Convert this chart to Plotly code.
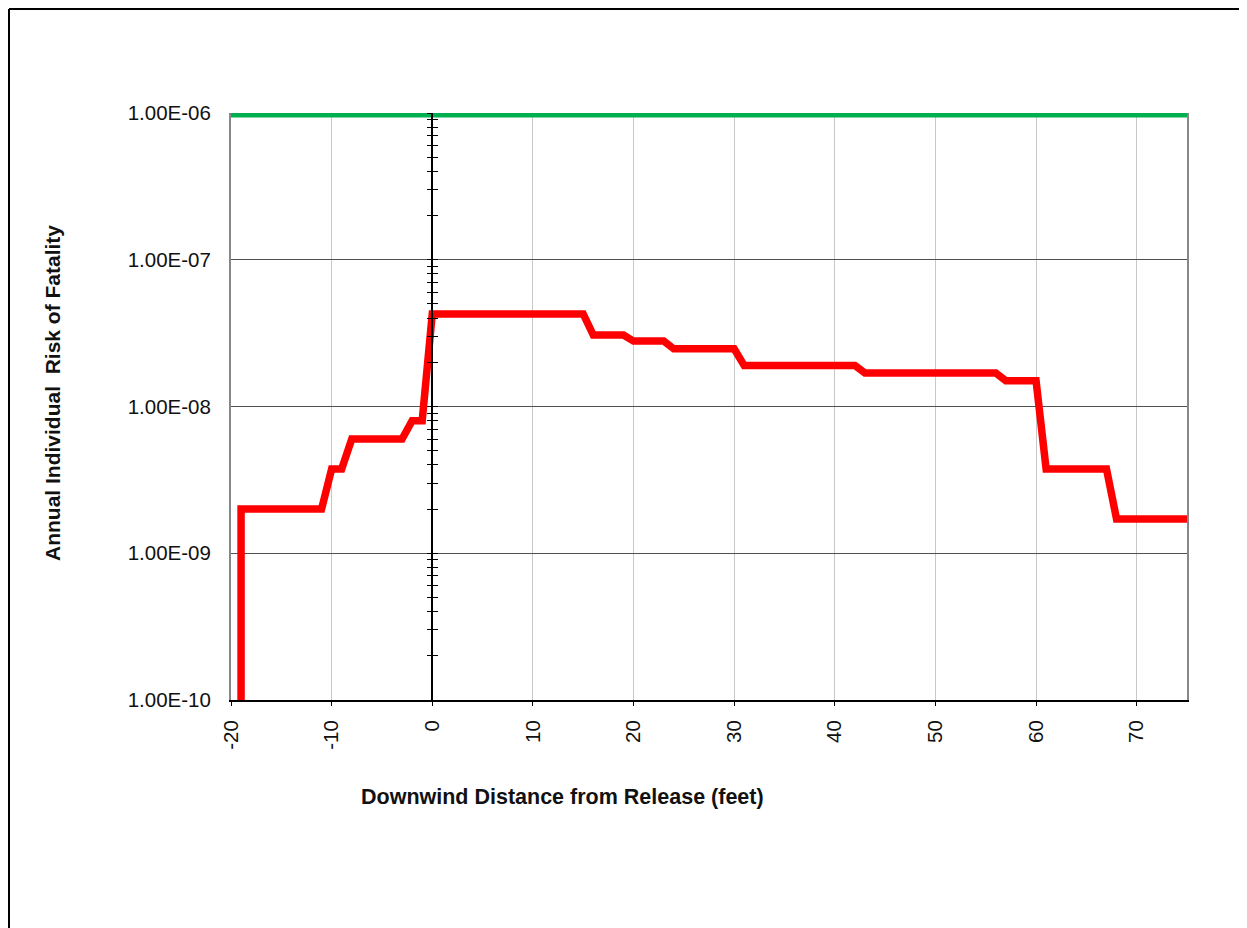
import plotly.graph_objects as go

# Data
dist = [-19, -19, -11, -10, -9, -8, -3, -2, -1, 0, 15, 16, 19, 20, 23, 24,
        30, 31, 42, 43, 56, 57, 60, 61, 67, 68, 75]
risk = [1e-10, 2.0e-9, 2.0e-9, 3.75e-9, 3.75e-9, 6.0e-9, 6.0e-9, 8.0e-9, 8.0e-9,
        4.27e-8, 4.27e-8, 3.07e-8, 3.07e-8, 2.79e-8, 2.79e-8, 2.47e-8, 2.47e-8,
        1.9e-8, 1.9e-8, 1.69e-8, 1.69e-8, 1.5e-8, 1.5e-8, 3.75e-9, 3.75e-9,
        1.71e-9, 1.71e-9]
criterion_x = [-20, 75]
criterion_y = [1e-6, 1e-6]

y_tickvals = [1e-10, 1e-9, 1e-8, 1e-7, 1e-6]
y_ticktext = ["1.00E-10", "1.00E-09", "1.00E-08", "1.00E-07", "1.00E-06"]
x_tickvals = [-20, -10, 0, 10, 20, 30, 40, 50, 60, 70]
x_ticktext = ["-20", "-10", "0", "10", "20", "30", "40", "50", "60", "70"]
minor_vals = [m * 10 ** e for e in range(-10, -6) for m in range(2, 10)]

OFF = 8  # browser default body margin
W, H = 1247 - OFF, 928 - OFF
PL, PT, PR, PB = 231, 113, 1187, 700  # plot area in page pixels
pw, ph = PR - PL, PB - PT
L, T = PL - OFF, PT - OFF
R, B = W - L - pw, H - T - ph
XMIN, XMAX = -20, 75
zero_pos = (0 - XMIN) / (XMAX - XMIN)


def px(xp):
    return (xp - PL) / pw


def py(yp):
    return (PB - yp) / ph


font = "Liberation Sans, Arial, sans-serif"
TXT = "#111111"

fig = go.Figure()
fig.add_trace(go.Scatter(x=criterion_x, y=criterion_y, mode="lines",
                         line=dict(color="#00b050", width=9), showlegend=False,
                         hoverinfo="skip"))
fig.add_trace(go.Scatter(x=dist, y=risk, mode="lines",
                         line=dict(color="#ff0000", width=7.5), showlegend=False))
for ya in ["y2", "y3"]:
    fig.add_trace(go.Scatter(x=[0], y=[1e-8], yaxis=ya, mode="markers",
                             marker=dict(opacity=0), showlegend=False,
                             hoverinfo="skip"))

common_zero = dict(type="log", range=[-10, -6], overlaying="y", anchor="free",
                   position=zero_pos, showgrid=False, showticklabels=False,
                   showline=True, linecolor="black", linewidth=1.5,
                   tickmode="array", tickvals=y_tickvals, ticklen=5,
                   tickcolor="black", tickwidth=1, zeroline=False)

fig.update_layout(
    width=W, height=H, autosize=False,
    margin=dict(l=L, r=R, t=T, b=B),
    paper_bgcolor="white", plot_bgcolor="white",
    font=dict(family=font, size=20.5, color=TXT),
    xaxis=dict(range=[XMIN, XMAX], tickmode="array", tickvals=x_tickvals,
               ticktext=x_ticktext,
               tickangle=-90, showgrid=True, gridcolor="#c8c8c8", gridwidth=1,
               showline=True, linecolor="black", linewidth=2,
               ticks="outside", ticklen=4, tickcolor="black",
               ticklabelstandoff=6,
               zeroline=False, tickfont=dict(size=20.5, color=TXT)),
    yaxis=dict(type="log", range=[-10, -6], tickmode="array",
               tickvals=y_tickvals, ticktext=y_ticktext,
               showgrid=True, gridcolor="#505050", gridwidth=1,
               showline=True, linecolor="#888888", linewidth=2, mirror=True,
               ticks="", ticklabelstandoff=14, zeroline=False,
               tickfont=dict(size=20.5, color=TXT)),
    yaxis2=dict(ticks="outside",
                minor=dict(tickmode="array", tickvals=minor_vals,
                           ticks="outside", ticklen=5, tickcolor="black"),
                **common_zero),
    yaxis3=dict(ticks="inside",
                minor=dict(tickmode="array", tickvals=minor_vals,
                           ticks="inside", ticklen=5, tickcolor="black"),
                **common_zero),
    annotations=[
        dict(text="<b>Downwind Distance from Release (feet)</b>",
             xref="paper", yref="paper", x=px(562), y=py(797),
             showarrow=False, font=dict(size=21.5, color=TXT),
             xanchor="center", yanchor="middle"),
        dict(text="<b>Annual Individual  Risk of Fatality</b>",
             xref="paper", yref="paper", x=px(52), y=py(393),
             showarrow=False, textangle=-90,
             font=dict(size=21, color=TXT),
             xanchor="center", yanchor="middle"),
    ],
    shapes=[
        dict(type="line", xref="paper", yref="paper",
             x0=px(OFF + 1), x1=px(OFF + 1), y0=py(928), y1=py(OFF + 1),
             line=dict(color="black", width=2)),
        dict(type="line", xref="paper", yref="paper",
             x0=px(OFF + 1), x1=px(1247), y0=py(OFF + 1), y1=py(OFF + 1),
             line=dict(color="black", width=2)),
    ],
)

fig.write_html("out.html")
